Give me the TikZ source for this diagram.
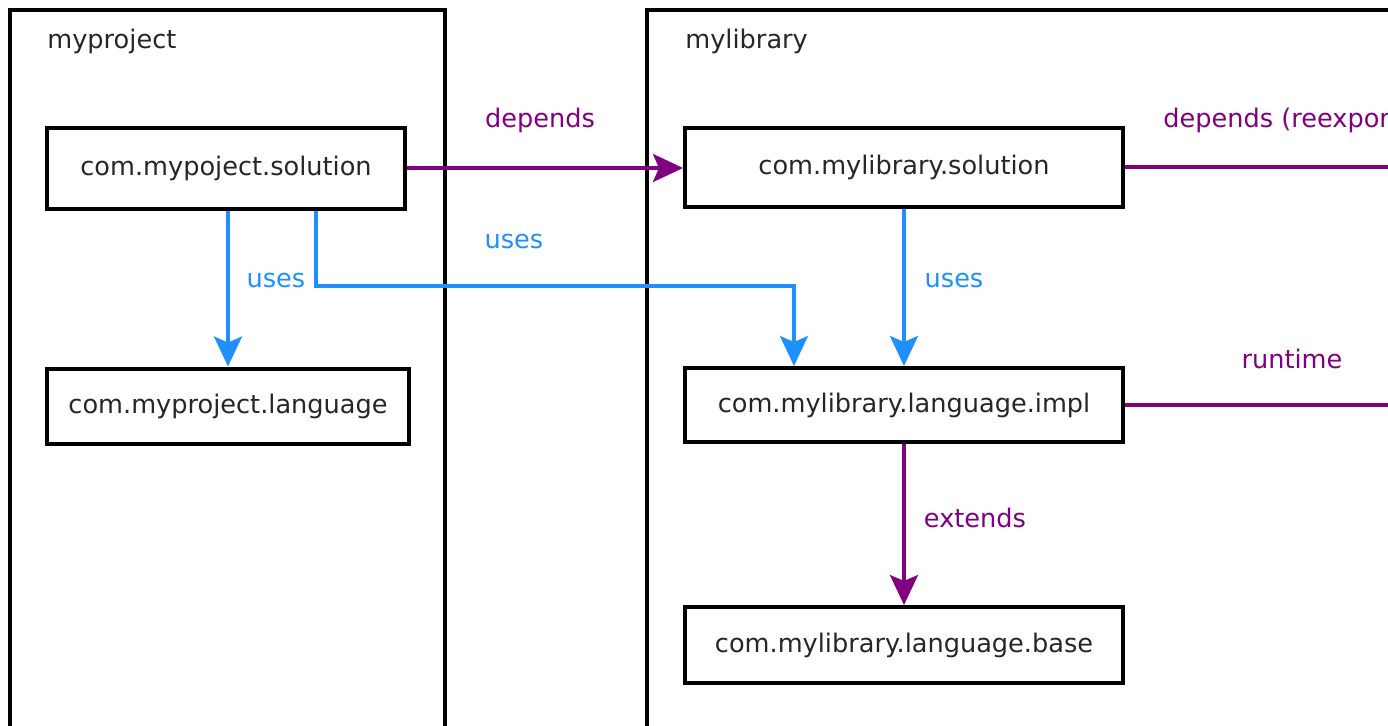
\documentclass[tikz,border=0pt]{standalone}
\usepackage{fontspec}
\setmainfont{DejaVu Sans}
\usetikzlibrary{calc,positioning,arrows.meta}

\definecolor{deppurple}{RGB}{128,0,128}
\definecolor{useblue}{RGB}{30,144,255}

\begin{document}
\begin{tikzpicture}[
        x=0.5pt, y=-0.5pt,
        module/.style={rectangle, draw=black, line width=2pt, fill=white, inner sep=0pt, text=black!85, font=\fontsize{12.8}{15}\selectfont},
        group/.style={draw=black, line width=2pt},
        grouptitle/.style={anchor=base west, inner sep=0pt, text=black!85, font=\fontsize{12.8}{15}\selectfont},
        lbl/.style={anchor=base, inner sep=0pt, font=\fontsize{12.8}{15}\selectfont},
        depends/.style={draw=deppurple, line width=1.6pt, -{Stealth[length=15pt, width=14pt, inset=3pt]}},
        uses/.style={draw=useblue, line width=1.6pt, -{Stealth[length=15pt, width=14pt, inset=3pt]}}
    ]
    \useasboundingbox (0,0) rectangle (1388,725);
    \clip (0,0) rectangle (1388,725);

    % the two projects
    \draw[group] (9.5,9.5) rectangle (444.5,900);
    \draw[group] (646.5,9.5) rectangle (1600,900);
    \node[grouptitle] (ptitle) at (47,48) {myproject};
    \node[grouptitle] (ltitle) at (685,48) {mylibrary};

    % modules
    \node[module, minimum width=179pt, minimum height=40.5pt] (psol) at (226,168) {com.mypoject.solution};
    \node[module, minimum width=181pt, minimum height=37.5pt] (plang) at (228,406) {com.myproject.language};
    \node[module, minimum width=219pt, minimum height=39.5pt] (lsol) at (904,167) {com.mylibrary.solution};
    \node[module, minimum width=219pt, minimum height=37pt] (limpl) at (904,405) {com.mylibrary.language.impl};
    \node[module, minimum width=219pt, minimum height=38pt] (lbase) at (904,645) {com.mylibrary.language.base};

    % ends of the lines leaving to the right
    \coordinate (reexp) at (1450,167);
    \coordinate (rt) at (1450,405);

    % dependencies
    \draw[depends] (psol.east) -- (psol.east -| lsol.west);
    \draw[depends] (lsol.east) -- (reexp);
    \draw[depends] (limpl.east) -- (rt);
    \draw[depends] (limpl.south) -- (lbase.north);

    % uses
    \draw[uses] (plang.north |- psol.south) -- (plang.north);
    \draw[uses] ($(psol.south)+(90,0)$) |- ($(limpl.north)+(-110,-80)$) -- ($(limpl.north)+(-110,0)$);
    \draw[uses] (lsol.south) -- (limpl.north);

    % labels
    \node[lbl, text=deppurple] (ldep) at (540,127) {depends};
    \node[lbl, text=deppurple, anchor=base west] (lreexp) at (1163,127) {depends (reexports)};
    \node[lbl, text=deppurple] (lrt) at (1292,368) {runtime};
    \node[lbl, text=deppurple] (lext) at (975,527) {extends};
    \node[lbl, text=useblue] (luses1) at (276,287) {uses};
    \node[lbl, text=useblue] (luses2) at (514,248) {uses};
    \node[lbl, text=useblue] (luses3) at (954,287) {uses};
\end{tikzpicture}
\end{document}
